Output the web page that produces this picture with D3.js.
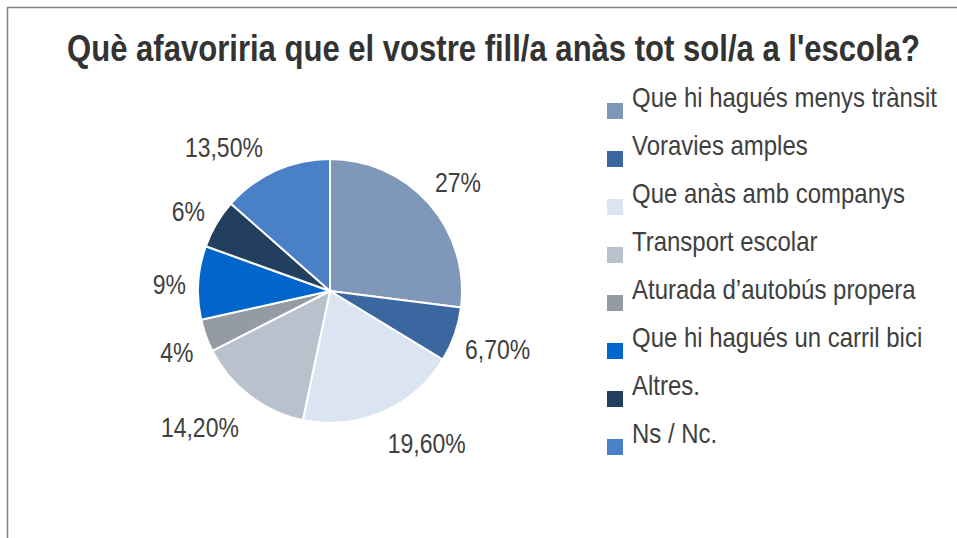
<!DOCTYPE html>
<html>
<head>
<meta charset="utf-8">
<script src="https://cdn.jsdelivr.net/npm/d3@7"></script>
<style>
  html, body { margin: 0; padding: 0; background: #fff; }
  svg { display: block; }
</style>
</head>
<body>
<svg id="chart" width="957" height="538"></svg>
<script>
const title = "Què afavoriria que el vostre fill/a anàs tot sol/a a l'escola?";
const categories = [
  "Que hi hagués menys trànsit",
  "Voravies amples",
  "Que anàs amb companys",
  "Transport escolar",
  "Aturada d’autobús propera",
  "Que hi hagués un carril bici",
  "Altres.",
  "Ns / Nc."
];
const values = [27, 6.7, 19.6, 14.2, 4, 9, 6, 13.5];
const valueLabels = ["27%", "6,70%", "19,60%", "14,20%", "4%", "9%", "6%", "13,50%"];
const colors = ["#7f98b9", "#3a67a0", "#dbe5f1", "#b9c1cc", "#959ba3", "#0066cc", "#223f5f", "#4a80c6"];

const W = 957, H = 538;
const FONT = "'Liberation Sans', Arial, sans-serif";
const svg = d3.select("#chart");

// frame
svg.append("rect")
  .attr("x", 7.5).attr("y", 7.5)
  .attr("width", W + 20).attr("height", H + 20)
  .attr("fill", "#fff")
  .attr("stroke", "#808080")
  .attr("stroke-width", 1.5);

// narrow-font emulation: horizontal compression
function narrow(sel, x, y, sx) {
  sel.attr("transform", `translate(${x},${y}) scale(${sx},1)`);
}

// title
const t = svg.append("text")
  .attr("text-anchor", "middle")
  .attr("font-family", FONT)
  .attr("font-weight", "bold")
  .attr("font-size", 36)
  .attr("fill", "#333333")
  .text(title);
const tsx = 853 / t.node().getComputedTextLength();
narrow(t, 493.5, 61, tsx);

// pie
const cx = 330, cy = 291, R = 132;
const pie = d3.pie().sort(null).value(d => d)(values);
const arc = d3.arc().innerRadius(0).outerRadius(R);
const g = svg.append("g").attr("transform", `translate(${cx},${cy})`);
g.selectAll("path.slice")
  .data(pie)
  .join("path")
  .attr("class", "slice")
  .attr("d", arc)
  .attr("fill", (d, i) => colors[i])
  .attr("stroke", "#fff")
  .attr("stroke-width", 2)
  .attr("stroke-linejoin", "round");

// data labels: outside-end, radial base with best-fit nudges
const labelArc = d3.arc().innerRadius(168).outerRadius(168);
const nudge = [[2, 2], [9, 3], [30, -2], [-28, 3], [5, 4], [7, 4], [3, 6], [-37, 9]];
const lbls = g.selectAll("text.lbl")
  .data(pie)
  .join("text")
  .attr("class", "lbl")
  .attr("text-anchor", "middle")
  .attr("font-family", FONT)
  .attr("font-size", 28)
  .attr("fill", "#404040")
  .text((d, i) => valueLabels[i]);
const lsx = 78 / lbls.nodes()[7].getComputedTextLength();
lbls.each(function (d, i) {
  const c = labelArc.centroid(d);
  narrow(d3.select(this), c[0] + nudge[i][0], c[1] + nudge[i][1] + 10, lsx);
});

// legend
const lg = svg.append("g").attr("transform", "translate(607,103)");
const item = lg.selectAll("g.item")
  .data(categories)
  .join("g")
  .attr("class", "item")
  .attr("transform", (d, i) => `translate(0,${i * 48})`);
item.append("rect")
  .attr("width", 16).attr("height", 16)
  .attr("fill", (d, i) => colors[i]);
const ltx = item.append("text")
  .attr("font-family", FONT)
  .attr("font-size", 27)
  .attr("fill", "#404040")
  .text(d => d);
const gsx = 305 / ltx.nodes()[0].getComputedTextLength();
ltx.each(function () { narrow(d3.select(this), 25, 4, gsx); });
</script>
</body>
</html>
